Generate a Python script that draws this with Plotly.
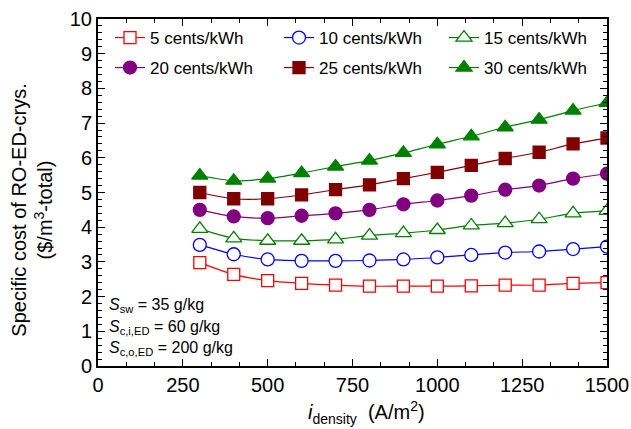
import plotly.graph_objects as go

x_density = [300, 400, 500, 600, 700, 800, 900, 1000, 1100, 1200, 1300, 1400, 1500]

cost_5 = [2.98, 2.64, 2.46, 2.38, 2.33, 2.30, 2.30, 2.30, 2.31, 2.33, 2.33, 2.38, 2.40]
cost_10 = [3.49, 3.22, 3.07, 3.03, 3.03, 3.04, 3.07, 3.13, 3.20, 3.27, 3.30, 3.37, 3.44]
cost_15 = [3.95, 3.68, 3.61, 3.61, 3.65, 3.76, 3.83, 3.92, 4.05, 4.12, 4.23, 4.40, 4.47]
cost_20 = [4.50, 4.31, 4.26, 4.33, 4.40, 4.50, 4.66, 4.77, 4.91, 5.08, 5.20, 5.40, 5.54]
cost_25 = [5.00, 4.82, 4.82, 4.93, 5.08, 5.22, 5.40, 5.58, 5.78, 5.98, 6.16, 6.40, 6.57]
cost_30 = [5.49, 5.34, 5.40, 5.56, 5.75, 5.92, 6.14, 6.39, 6.62, 6.88, 7.10, 7.36, 7.58]

series_names = ["5 cents/kWh", "10 cents/kWh", "15 cents/kWh",
                "20 cents/kWh", "25 cents/kWh", "30 cents/kWh"]
x_ticks = [0, 250, 500, 750, 1000, 1250, 1500]
y_ticks = list(range(0, 11))

FONT = "Arial, Liberation Sans, sans-serif"

styles = [
    dict(color="#ff0000", symbol="square", fill="white", size=12),
    dict(color="#0000ff", symbol="circle", fill="white", size=13),
    dict(color="#008000", symbol="triangle-up", fill="white", size=14),
    dict(color="#800080", symbol="circle", fill="#800080", size=13),
    dict(color="#800000", symbol="square", fill="#800000", size=12),
    dict(color="#008000", symbol="triangle-up", fill="#008000", size=14),
]
all_costs = [cost_5, cost_10, cost_15, cost_20, cost_25, cost_30]
legend_ids = ["legend", "legend2", "legend3", "legend4", "legend5", "legend6"]

fig = go.Figure()
for name, ys, st, lg in zip(series_names, all_costs, styles, legend_ids):
    fig.add_trace(go.Scatter(
        x=x_density, y=ys, name=name, mode="lines+markers",
        line=dict(color=st["color"], width=1.2, shape="spline", smoothing=0.8),
        marker=dict(symbol=st["symbol"], size=st["size"], color=st["fill"],
                    line=dict(color=st["color"], width=1.3)),
        legend=lg,
    ))

axis_common = dict(
    showline=True, linecolor="black", linewidth=2, mirror="allticks",
    ticks="inside", ticklen=7, tickwidth=1.3, tickcolor="black",
    showgrid=False, zeroline=False, automargin=False,
    tickfont=dict(family=FONT, size=20, color="black"),
)

fig.update_xaxes(range=[0, 1500], tickvals=x_ticks, ticktext=[str(v) for v in x_ticks],
                 minor=dict(dtick=250 / 3, ticks="inside", ticklen=4, tickcolor="black", tickwidth=1),
                 **axis_common)
fig.update_yaxes(range=[0, 10], tickvals=y_ticks, ticktext=[str(v) for v in y_ticks],
                 minor=dict(dtick=0.2, ticks="inside", ticklen=4, tickcolor="black", tickwidth=1),
                 **axis_common)

# legend placement in pixels converted to paper fractions
PL, PT, PW, PH = 98, 19, 509, 347
col_px = [110, 279, 444]
row_px = [38, 68]

legends = {}
for i, lg in enumerate(legend_ids):
    cx = col_px[i % 3]
    cy = row_px[i // 3]
    legends[lg] = dict(
        x=(cx - PL) / PW, y=1 - (cy - PT) / PH,
        xanchor="left", yanchor="middle", orientation="h",
        bgcolor="rgba(0,0,0,0)", borderwidth=0,
        font=dict(family=FONT, size=17, color="black"),
        itemclick=False, itemdoubleclick=False,
    )

fig.update_layout(
    width=631, height=429,
    margin=dict(l=PL, r=631 - PL - PW, t=PT, b=429 - PT - PH, autoexpand=False),
    paper_bgcolor="white", plot_bgcolor="white",
    font=dict(family=FONT, color="black"),
    showlegend=True,
    annotations=[
        dict(text="Specific cost of RO-ED-crys.<br>($/m<sup>3</sup>-total)",
             xref="paper", yref="paper", x=-0.13, y=0.45, xanchor="center", yanchor="middle",
             textangle=-90, showarrow=False, font=dict(family=FONT, size=20)),
        dict(text="<i>i</i><sub>density</sub>  (A/m<sup>2</sup>)",
             xref="paper", yref="paper", x=0.527, y=-0.135, xanchor="center", yanchor="middle",
             showarrow=False, font=dict(family=FONT, size=20)),
        dict(text="<i>S</i><sub>sw</sub> = 35 g/kg",
             xref="paper", yref="paper", x=0.018, y=0.175, xanchor="left", yanchor="middle",
             showarrow=False, font=dict(family=FONT, size=16)),
        dict(text="<i>S</i><sub>c,i,ED</sub> = 60 g/kg",
             xref="paper", yref="paper", x=0.018, y=0.112, xanchor="left", yanchor="middle",
             showarrow=False, font=dict(family=FONT, size=16)),
        dict(text="<i>S</i><sub>c,o,ED</sub> = 200 g/kg",
             xref="paper", yref="paper", x=0.018, y=0.05, xanchor="left", yanchor="middle",
             showarrow=False, font=dict(family=FONT, size=16)),
    ],
    **legends,
)

fig.write_html("out.html", config={"displayModeBar": False},
               post_script="document.body.style.margin='0px';")
